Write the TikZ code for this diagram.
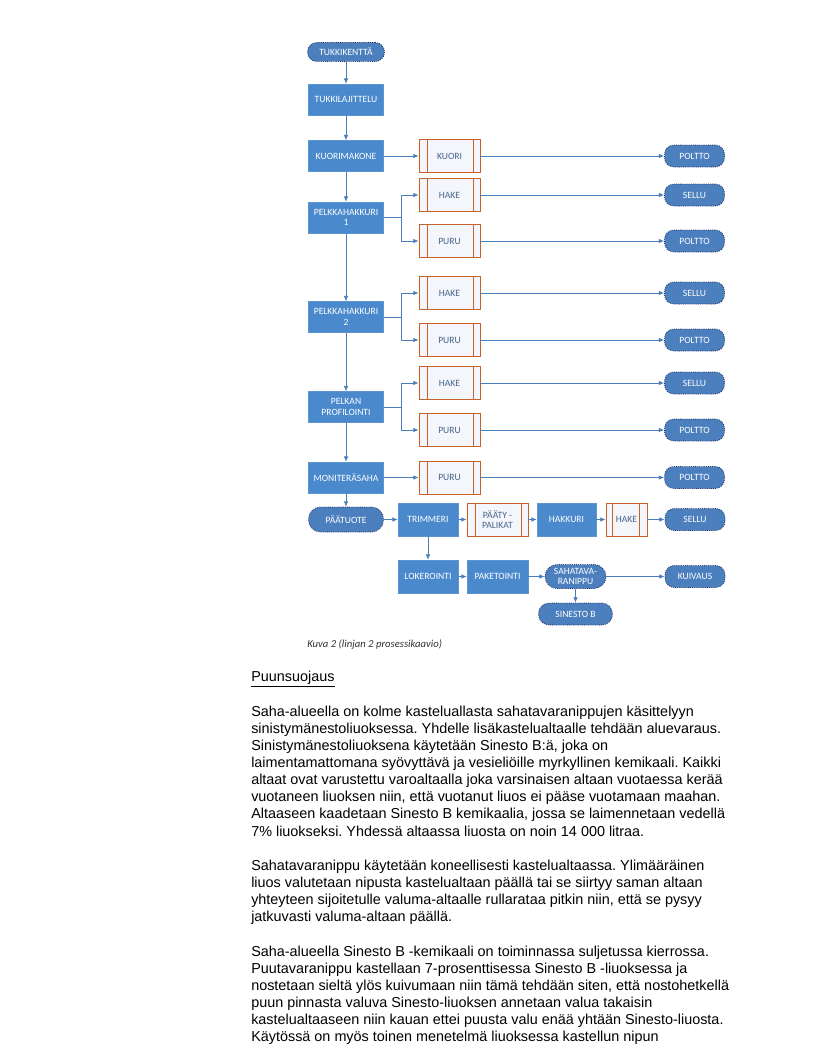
\documentclass[tikz,border=0pt]{standalone}
\usepackage{fontspec}
\setmainfont{Liberation Sans}
\newfontfamily\capfont{Carlito}
\usetikzlibrary{arrows.meta}
\frenchspacing
\definecolor{boxblue}{RGB}{74,137,204}
\definecolor{termblue}{RGB}{76,127,189}
\definecolor{termedge}{RGB}{28,40,95}
\definecolor{prodedge}{RGB}{196,98,40}
\definecolor{prodfill}{RGB}{244,246,251}
\definecolor{prodtext}{RGB}{70,100,140}
\definecolor{linkblue}{RGB}{74,126,187}
\newcommand\prodL{6pt}
\newcommand\prodR{5.25pt}
\begin{document}
\begin{tikzpicture}[x=0.75pt,y=-0.75pt,
  lbl/.style={font=\capfont\fontsize{7.2}{8}\selectfont, align=center, inner sep=1pt},
  proc/.style={lbl, rectangle, fill=boxblue, draw=boxblue!90!white, line width=0.4pt, text=white,
    minimum width=56.25pt, minimum height=23.25pt},
  term/.style={lbl, rectangle, rounded corners=7pt, fill=termblue, draw=termedge, densely dotted,
    line width=0.6pt, text=white, minimum width=45pt, minimum height=16.5pt},
  prod/.style={lbl, rectangle, draw=prodedge, fill=prodfill, text=prodtext, line width=0.6pt,
    minimum width=45.75pt, minimum height=24.75pt,
    path picture={\draw[prodedge, line width=0.6pt]
      ([xshift=\prodL]path picture bounding box.north west) -- ([xshift=\prodL]path picture bounding box.south west)
      ([xshift=-\prodR]path picture bounding box.north east) -- ([xshift=-\prodR]path picture bounding box.south east);}},
  arr/.style={draw=linkblue, line width=0.6pt, -{Latex[length=4pt,width=3.5pt]}},
  txt/.style={anchor=base west, inner sep=0pt, font=\fontsize{10.8}{13}\selectfont}
]
\useasboundingbox[fill=white] (0,0) rectangle (816,1056);

% main column
\node[term, minimum width=57.75pt, minimum height=14.25pt] (tk) at (346,52) {TUKKIKENTTÄ};
\node[proc] (tl) at (346,99.5) {TUKKILAJITTELU};
\node[proc] (km) at (346,156) {KUORIMAKONE};
\node[proc] (pk1) at (346,217.5) {PELKKAHAKKURI\\1};
\node[proc] (pk2) at (346,317) {PELKKAHAKKURI\\2};
\node[proc] (pp) at (346,407) {PELKAN\\PROFILOINTI};
\node[proc] (mt) at (346,477.5) {MONITERÄSAHA};
\node[term, minimum width=56.25pt, minimum height=18.75pt, rounded corners=9pt] (pt) at (346,519.5) {PÄÄTUOTE};

% product boxes
\node[prod] (kuori) at (449.5,156) {KUORI};
\node[prod] (hake1) at (449.5,195) {HAKE};
\node[prod] (puru1) at (449.5,241) {PURU};
\node[prod] (hake2) at (449.5,293) {HAKE};
\node[prod] (puru2) at (449.5,340) {PURU};
\node[prod] (hake3) at (449.5,383) {HAKE};
\node[prod] (puru3) at (449.5,430) {PURU};
\node[prod] (puru4) at (449.5,477.5) {PURU};

% end terminals
\node[term] (polt1) at (694.5,156) {POLTTO};
\node[term] (sellu1) at (694.5,195) {SELLU};
\node[term] (polt2) at (694.5,241) {POLTTO};
\node[term] (sellu2) at (694.5,293) {SELLU};
\node[term] (polt3) at (694.5,340) {POLTTO};
\node[term] (sellu3) at (694.5,383) {SELLU};
\node[term] (polt4) at (694.5,430) {POLTTO};
\node[term] (polt5) at (694.5,477.5) {POLTTO};

% bottom rows
\node[proc, minimum width=45pt, minimum height=24.75pt] (trim) at (428,519.5) {TRIMMERI};
\node[prod] (pp2) at (497.5,519.5) {PÄÄTY -\\PALIKAT};
\node[proc, minimum width=44.25pt, minimum height=24.75pt] (hakk) at (566.5,519.5) {HAKKURI};
\renewcommand\prodL{4.5pt}\renewcommand\prodR{6pt}
\node[prod, minimum width=30.75pt] (hake5) at (626.5,519.5) {HAKE};
\node[term] (sellu5) at (695,519.5) {SELLU};

\node[proc, minimum width=45pt, minimum height=24.75pt] (lok) at (428,576.5) {LOKEROINTI};
\node[proc, minimum width=45.75pt, minimum height=24.75pt] (pak) at (497.5,576.5) {PAKETOINTI};
\node[term, minimum width=45.75pt, minimum height=18pt, rounded corners=9pt] (sah) at (575.5,576.5) {SAHATAVA-\\RANIPPU};
\node[term, minimum width=55.5pt, minimum height=16.5pt, rounded corners=8pt] (sin) at (575.5,614) {SINESTO B};
\node[term] (kuiv) at (695,576.5) {KUIVAUS};

% connectors
\draw[arr] (tk) -- (tl);
\draw[arr] (tl) -- (km);
\draw[arr] (km) -- (pk1);
\draw[arr] (pk1) -- (pk2);
\draw[arr] (pk2) -- (pp);
\draw[arr] (pp) -- (mt);
\draw[arr] (mt) -- (pt);

\draw[arr] (km) -- (kuori);
\draw[arr] (kuori) -- (polt1);

\draw[arr] (pk1.east) -- ++(18,0) |- (hake1.west);
\draw[arr] (pk1.east) -- ++(18,0) |- (puru1.west);
\draw[arr] (hake1) -- (sellu1);
\draw[arr] (puru1) -- (polt2);

\draw[arr] (pk2.east) -- ++(18,0) |- (hake2.west);
\draw[arr] (pk2.east) -- ++(18,0) |- (puru2.west);
\draw[arr] (hake2) -- (sellu2);
\draw[arr] (puru2) -- (polt3);

\draw[arr] (pp.east) -- ++(18,0) |- (hake3.west);
\draw[arr] (pp.east) -- ++(18,0) |- (puru3.west);
\draw[arr] (hake3) -- (sellu3);
\draw[arr] (puru3) -- (polt4);

\draw[arr] (mt) -- (puru4);
\draw[arr] (puru4) -- (polt5);

\draw[arr] (pt) -- (trim);
\draw[arr] (trim) -- (pp2);
\draw[arr] (pp2) -- (hakk);
\draw[arr] (hakk) -- (hake5);
\draw[arr] (hake5) -- (sellu5);
\draw[arr] (trim) -- (lok);
\draw[arr] (lok) -- (pak);
\draw[arr] (pak) -- (sah);
\draw[arr] (sah) -- (kuiv);
\draw[arr] (sah) -- (sin);

% caption
\node[anchor=west, inner sep=0pt, font=\capfont\itshape\fontsize{8}{9}\selectfont, text=black!80] (cap) at (307,645) {Kuva 2 (linjan 2 prosessikaavio)};

% body text
\node[txt] (h) at (251,681.5) {\underline{Puunsuojaus}};
\node[txt] (a1) at (251,716) {Saha-alueella on kolme kasteluallasta sahatavaranippujen käsittelyyn};
\node[txt] (a2) at (251,733.2) {sinistymänestoliuoksessa. Yhdelle lisäkastelualtaalle tehdään aluevaraus.};
\node[txt] (a3) at (251,750.3) {Sinistymänestoliuoksena käytetään Sinesto B:ä, joka on};
\node[txt] (a4) at (251,767.5) {laimentamattomana syövyttävä ja vesieliöille myrkyllinen kemikaali. Kaikki};
\node[txt] (a5) at (251,784.6) {altaat ovat varustettu varoaltaalla joka varsinaisen altaan vuotaessa kerää};
\node[txt] (a6) at (251,801.8) {vuotaneen liuoksen niin, että vuotanut liuos ei pääse vuotamaan maahan.};
\node[txt] (a7) at (251,818.9) {Altaaseen kaadetaan Sinesto B kemikaalia, jossa se laimennetaan vedellä};
\node[txt] (a8) at (251,836) {7\% liuokseksi. Yhdessä altaassa liuosta on noin 14 000 litraa.};

\node[txt] (b1) at (251,870.3) {Sahatavaranippu käytetään koneellisesti kastelualtaassa. Ylimääräinen};
\node[txt] (b2) at (251,887.5) {liuos valutetaan nipusta kastelualtaan päällä tai se siirtyy saman altaan};
\node[txt] (b3) at (251,904.6) {yhteyteen sijoitetulle valuma-altaalle rullarataa pitkin niin, että se pysyy};
\node[txt] (b4) at (251,921.8) {jatkuvasti valuma-altaan päällä.};

\node[txt] (c1) at (251,956.1) {Saha-alueella Sinesto B -kemikaali on toiminnassa suljetussa kierrossa.};
\node[txt] (c2) at (251,973.3) {Puutavaranippu kastellaan 7-prosenttisessa Sinesto B -liuoksessa ja};
\node[txt] (c3) at (251,990.4) {nostetaan sieltä ylös kuivumaan niin tämä tehdään siten, että nostohetkellä};
\node[txt] (c4) at (251,1007.6) {puun pinnasta valuva Sinesto-liuoksen annetaan valua takaisin};
\node[txt] (c5) at (251,1024.7) {kastelualtaaseen niin kauan ettei puusta valu enää yhtään Sinesto-liuosta.};
\node[txt] (c6) at (251,1041.9) {Käytössä on myös toinen menetelmä liuoksessa kastellun nipun};
\end{tikzpicture}
\end{document}
